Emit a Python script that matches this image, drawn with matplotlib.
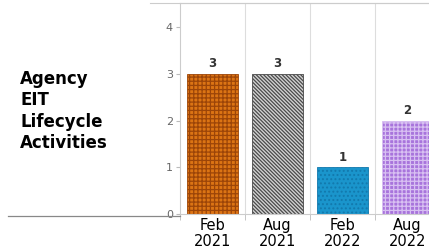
import matplotlib
matplotlib.use('Agg')
import matplotlib.pyplot as plt
from matplotlib.lines import Line2D

plt.rcParams['font.family'] = ['DejaVu Sans']
plt.rcParams['hatch.linewidth'] = 0.9

# datos
periodos = ['Feb\n2021', 'Aug\n2021', 'Feb\n2022', 'Aug\n2022']
actividades = [3, 3, 1, 2]
colores = ['#dc7414', '#d2d2d2', '#1a95cc', '#a874dc']
hatch_col = ['#9c4508', '#4a4a4a', '#1279ad', '#d8c0f2']
hatches = ['++++', '\\' * 9, '....', '++++']
titulo = 'Agency\nEIT\nLifecycle\nActivities'

fig = plt.figure(figsize=(4.29, 2.52), dpi=100)
ax = fig.add_axes([180 / 429, 1 - 214 / 252, 260 / 429, 211 / 252])

x = range(len(periodos))
for i in x:
    ax.bar(i, actividades[i], width=0.78, color=colores[i], edgecolor=hatch_col[i],
           hatch=hatches[i], linewidth=0.6, zorder=2)
    ax.text(i, actividades[i] + 0.08, str(actividades[i]), ha='center', va='bottom',
            fontsize=8.5, fontweight='bold', color='#333333')

ax.set_xlim(-0.5, 3.5)
ax.set_ylim(0, 4.52)
ax.set_yticks([0, 1, 2, 3, 4])
ax.set_xticks(list(x))
ax.set_xticklabels(periodos, fontsize=10.5, color='#000000', linespacing=1.1)
ax.tick_params(axis='x', length=0, pad=3)
ax.tick_params(axis='y', length=3, color='#bbbbbb', labelcolor='#666666', labelsize=8, pad=2)

# lineas verticales entre categorias
for b in [0.5, 1.5, 2.5]:
    ax.axvline(b, color='#dddddd', lw=0.8, zorder=0)
ax.set_xticks([-0.5, 0.5, 1.5, 2.5], minor=True)
ax.tick_params(axis='x', which='minor', length=4, color='#bbbbbb')

for s in ['left', 'top', 'bottom']:
    ax.spines[s].set_color('#cccccc')
    ax.spines[s].set_linewidth(0.8)
ax.spines['right'].set_visible(False)

# lineas de marco fuera del eje
fig.add_artist(Line2D([8 / 429, 180 / 429], [1 - 216 / 252, 1 - 216 / 252],
                      color='#888888', lw=0.9, transform=fig.transFigure))
fig.add_artist(Line2D([150 / 429, 1], [1 - 3 / 252, 1 - 3 / 252],
                      color='#cccccc', lw=0.8, transform=fig.transFigure))

fig.text(20 / 429, 1 - 111 / 252, titulo, ha='left', va='center', fontsize=12,
         fontweight='bold', color='#000000', linespacing=1.24)

fig.savefig('out.png', dpi=100)
